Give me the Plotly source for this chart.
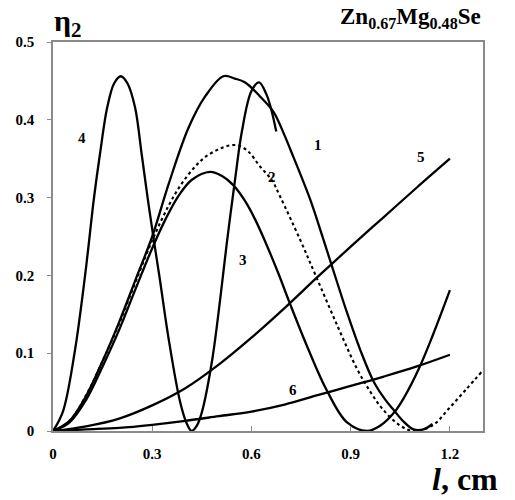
import plotly.graph_objects as go

# ---- data ----
x1 = [0, 0.05, 0.1, 0.15, 0.2, 0.25, 0.3, 0.35, 0.41, 0.46, 0.515, 0.55, 0.581, 0.626, 0.667,
      0.70, 0.727, 0.778, 0.813, 0.838, 0.889, 0.93, 0.97, 1.005, 1.03, 1.06, 1.09, 1.12, 1.147]
y1 = [0, 0.013, 0.045, 0.09, 0.14, 0.195, 0.25, 0.318, 0.39, 0.43, 0.456, 0.453, 0.448, 0.43, 0.41,
      0.38, 0.352, 0.297, 0.252, 0.219, 0.152, 0.103, 0.063, 0.04, 0.027, 0.012, 0.002, 0.002, 0.009]

x2 = [0, 0.05, 0.1, 0.15, 0.2, 0.25, 0.3, 0.35, 0.389, 0.43, 0.46, 0.5, 0.535, 0.56, 0.591, 0.626,
      0.662, 0.687, 0.748, 0.794, 0.859, 0.919, 0.96, 0.995, 1.046, 1.09, 1.147, 1.197, 1.248, 1.3]
y2 = [0, 0.013, 0.046, 0.09, 0.138, 0.192, 0.245, 0.29, 0.318, 0.34, 0.352, 0.362, 0.367, 0.367, 0.359, 0.34,
      0.322, 0.301, 0.245, 0.2, 0.136, 0.08, 0.05, 0.029, 0.008, 0.0, 0.007, 0.029, 0.053, 0.078]

x3 = [0, 0.05, 0.1, 0.15, 0.2, 0.25, 0.3, 0.34, 0.379, 0.42, 0.475, 0.51, 0.545, 0.58, 0.611, 0.642,
      0.68, 0.717, 0.77, 0.828, 0.889, 0.95, 0.99, 1.03, 1.06, 1.106, 1.15, 1.2]
y3 = [0, 0.011, 0.04, 0.083, 0.13, 0.183, 0.235, 0.272, 0.302, 0.323, 0.333, 0.328, 0.316, 0.296, 0.272, 0.243,
      0.204, 0.163, 0.107, 0.052, 0.011, 0.0, 0.007, 0.023, 0.042, 0.08, 0.125, 0.181]

x4 = [0, 0.03, 0.065, 0.097, 0.124, 0.142, 0.164, 0.185, 0.205, 0.225, 0.248, 0.268, 0.286, 0.305,
      0.323, 0.349, 0.384, 0.405, 0.419, 0.435, 0.45, 0.48, 0.505, 0.525, 0.551, 0.571, 0.6, 0.623, 0.645, 0.66, 0.675]
y4 = [0, 0.025, 0.1, 0.2, 0.3, 0.356, 0.416, 0.447, 0.456, 0.447, 0.416, 0.356, 0.3, 0.245,
      0.195, 0.12, 0.038, 0.009, 0.0, 0.007, 0.024, 0.088, 0.168, 0.24, 0.325, 0.385, 0.437, 0.448, 0.433, 0.413, 0.385]

x5 = [0, 0.1, 0.2, 0.3, 0.4, 0.5, 0.6, 0.7, 0.8, 0.9, 1.0, 1.1, 1.2]
y5 = [0, 0.006, 0.016, 0.033, 0.055, 0.085, 0.12, 0.158, 0.198, 0.237, 0.275, 0.313, 0.35]

x6 = [0, 0.1, 0.2, 0.3, 0.4, 0.5, 0.6, 0.7, 0.8, 0.9, 1.0, 1.1, 1.2]
y6 = [0, 0.002, 0.004, 0.008, 0.013, 0.019, 0.025, 0.034, 0.046, 0.058, 0.07, 0.083, 0.098]

curve_labels = ["1", "2", "3", "4", "5", "6"]
label_x = [0.802, 0.662, 0.575, 0.087, 1.114, 0.726]
label_y = [0.367, 0.327, 0.22, 0.377, 0.352, 0.053]

x_ticks = [0, 0.3, 0.6, 0.9, 1.2]
x_ticktext = ["0", "0.3", "0.6", "0.9", "1.2"]
y_ticks = [0, 0.1, 0.2, 0.3, 0.4, 0.5]
y_ticktext = ["0", "0.1", "0.2", "0.3", "0.4", "0.5"]

SERIF = "Liberation Serif, Times New Roman, serif"

fig = go.Figure()
solid = dict(color="black", width=2.3, shape="spline", smoothing=1.0)
for xs, ys in [(x1, y1), (x3, y3), (x4, y4), (x5, y5), (x6, y6)]:
    fig.add_trace(go.Scatter(x=xs, y=ys, mode="lines", line=solid, showlegend=False, hoverinfo="skip"))
fig.add_trace(go.Scatter(x=x2, y=y2, mode="lines",
                         line=dict(color="black", width=2.1, dash="dot", shape="spline", smoothing=1.0),
                         showlegend=False, hoverinfo="skip"))

for t, lx, ly in zip(curve_labels, label_x, label_y):
    fig.add_annotation(x=lx, y=ly, xref="x", yref="y", text="<b>%s</b>" % t, showarrow=False,
                       font=dict(family=SERIF, size=15, color="black"))

fig.add_annotation(x=-0.003, y=1.05, xref="paper", yref="paper", xanchor="left", yanchor="middle",
                   text="<b>η<sub>2</sub></b>", showarrow=False,
                   font=dict(family=SERIF, size=30, color="black"))
fig.add_annotation(x=1.0, y=1.0, xref="paper", yref="paper", xanchor="right", yanchor="bottom",
                   yshift=8, text="<b>Zn<sub>0.67</sub>Mg<sub>0.48</sub>Se</b>", showarrow=False,
                   font=dict(family=SERIF, size=23, color="black"))
fig.add_annotation(x=1.04, y=0, xref="paper", yref="paper", xanchor="right", yanchor="top",
                   yshift=-28, text="<b><i>l</i>, cm</b>", showarrow=False,
                   font=dict(family=SERIF, size=32, color="black"))

fig.update_xaxes(range=[0, 1.3], tickvals=x_ticks, ticktext=["<b>%s</b>" % t for t in x_ticktext],
                 showgrid=False, zeroline=False, showline=True, mirror=True,
                 linecolor="#8a8a8a", linewidth=1.5, ticks="inside", ticklen=5, tickcolor="#8a8a8a",
                 tickfont=dict(family=SERIF, size=15, color="black"), ticklabelstandoff=8)
fig.update_yaxes(range=[0, 0.5], tickvals=y_ticks, ticktext=["<b>%s</b>" % t for t in y_ticktext],
                 showgrid=False, zeroline=False, showline=True, mirror=True,
                 linecolor="#8a8a8a", linewidth=1.5, ticks="outside", ticklen=4, tickcolor="#8a8a8a",
                 tickfont=dict(family=SERIF, size=15, color="black"), ticklabelstandoff=10)

fig.update_layout(width=515, height=500, margin=dict(l=53, r=32, t=42, b=69),
                  plot_bgcolor="white", paper_bgcolor="white")

fig.write_html("out.html")
